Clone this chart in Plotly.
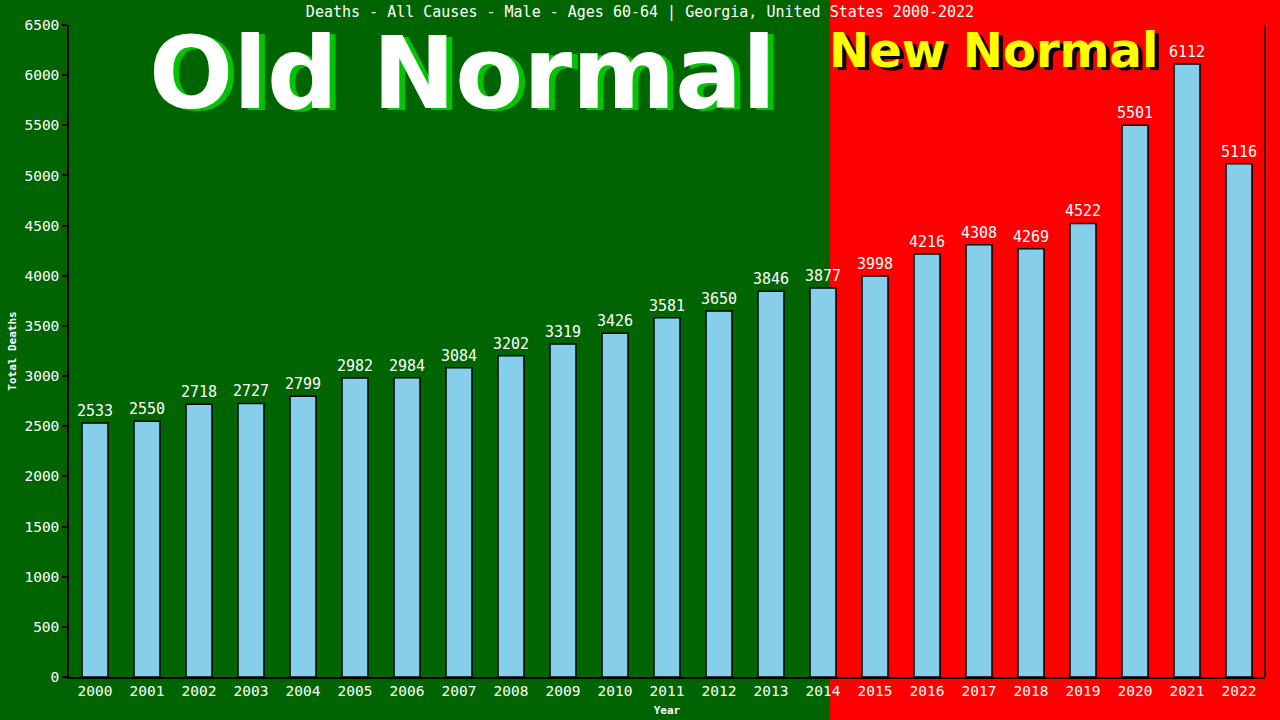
import plotly.graph_objects as go

# data
years = [str(y) for y in range(2000, 2023)]
deaths = [2533, 2550, 2718, 2727, 2799, 2982, 2984, 3084, 3202, 3319, 3426,
          3581, 3650, 3846, 3877, 3998, 4216, 4308, 4269, 4522, 5501, 6112, 5116]
title_text = "Deaths - All Causes - Male - Ages 60-64 | Georgia, United States 2000-2022"
y_ticks = list(range(0, 6501, 500))

MONO = "DejaVu Sans Mono"
BOLD = "DejaVu Sans"

fig = go.Figure()
fig.add_trace(go.Bar(
    x=years, y=deaths,
    marker=dict(color="#87CEEB", line=dict(color="black", width=1.5)),
    text=[str(v) for v in deaths], textposition="outside",
    constraintext="none",
    textfont=dict(family=MONO, size=15, color="white"),
    cliponaxis=False,
))

# red "new normal" background from the middle of the 2014 bar onward
split = (years.index("2014") + 0.13 + 0.5) / len(years)
fig.add_shape(type="rect", xref="paper", yref="paper",
              x0=split, x1=1.02, y0=-0.08, y1=1.05,
              fillcolor="#FF0000", line_width=0, layer="below")
# right border
fig.add_shape(type="line", xref="paper", yref="paper",
              x0=1, x1=1, y0=0, y1=1, line=dict(color="black", width=1.5))


# big labels with drop shadows
def shadow_label(text, x, y, size, color, shade, dx, dy):
    for c, sx, sy in [(shade, dx, -dy), (color, 0, 0)]:
        fig.add_annotation(text=f"<b>{text}</b>", xref="paper", yref="paper",
                           x=x, y=y, xanchor="center", yanchor="middle",
                           showarrow=False, xshift=sx, yshift=sy,
                           font=dict(family=BOLD, size=size, color=c))


shadow_label("Old Normal", 0.3294, 0.9256, 99, "white", "#00C400", 6, 2)
shadow_label("New Normal", 0.7734, 0.961, 48, "#FFFF00", "black", 4, 3)

fig.update_layout(
    width=1280, height=720,
    margin=dict(l=69, r=15, t=25, b=43),
    paper_bgcolor="#006400", plot_bgcolor="rgba(0,0,0,0)",
    bargap=0.5, showlegend=False,
    title=dict(text=title_text, x=0.5, xanchor="center", y=0.983, yanchor="middle",
               font=dict(family=MONO, size=15, color="white")),
    xaxis=dict(type="category", range=[-0.5, len(years) - 0.5], automargin=False,
               showline=True, linecolor="black", linewidth=1.5, ticks="",
               tickfont=dict(family=MONO, size=14.5, color="white"),
               title=dict(text="<b>Year</b>", standoff=8,
                          font=dict(family=MONO, size=11, color="white")),
               showgrid=False, zeroline=False),
    yaxis=dict(range=[0, 6500], tickvals=y_ticks, automargin=False,
               showline=True, linecolor="black", linewidth=1.5,
               ticks="outside", ticklen=5, tickcolor="black", tickwidth=1.5,
               tickfont=dict(family=MONO, size=14.5, color="white"),
               title=dict(text="<b>Total Deaths</b>", standoff=6,
                          font=dict(family=MONO, size=11, color="white")),
               showgrid=False, zeroline=False),
)

fig.write_html("out.html", config={"displayModeBar": False},
               post_script="document.body.style.margin='0';")
